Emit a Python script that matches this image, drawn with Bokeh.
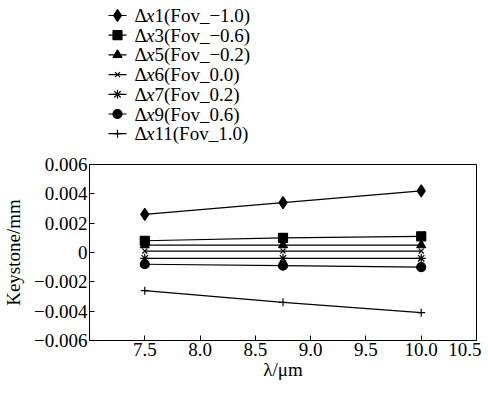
from bokeh.plotting import figure
from bokeh.layouts import column
from bokeh.models import Range1d, FixedTicker
from bokeh.core.properties import value
from bokeh.embed import file_html
from bokeh.resources import INLINE

# ---- data ----
wavelength = [7.5, 8.75, 10.0]
series_names = ["1(Fov_\u22121.0)", "3(Fov_\u22120.6)", "5(Fov_\u22120.2)", "6(Fov_0.0)",
                "7(Fov_0.2)", "9(Fov_0.6)", "11(Fov_1.0)"]
dx1 = [0.0026, 0.0034, 0.0042]
dx3 = [0.0008, 0.0010, 0.0011]
dx5 = [0.0005, 0.0005, 0.0005]
dx6 = [0.0001, 0.0001, 0.0001]
dx7 = [-0.0004, -0.0004, -0.0004]
dx9 = [-0.0008, -0.0009, -0.0010]
dx11 = [-0.0026, -0.0034, -0.0041]
x_ticks = [7.5, 8.0, 8.5, 9.0, 9.5, 10.0, 10.5]
x_tick_labels = ["7.5", "8.0", "8.5", "9.0", "9.5", "10.0", "10.5"]
y_ticks = [0.006, 0.004, 0.002, 0.0, -0.002, -0.004, -0.006]
y_tick_labels = ["0.006", "0.004", "0.002", "0", "\u22120.002", "\u22120.004", "\u22120.006"]

series = [dx1, dx3, dx5, dx6, dx7, dx9, dx11]
markers = ["diamond", "square", "triangle", "x", "asterisk", "circle", "cross"]
msizes = [12, 9, 9, 7, 9, 9, 8]

FONT = "Liberation Serif"
BL, BR = 80, 5          # left / right borders shared by both figures
FW, FH = 387, 176       # main frame size
LH = 154                # legend strip height

# ---- legend figure (manual, to allow italic x); x/y in canvas pixels ----
leg = figure(frame_width=FW, frame_height=LH, x_range=Range1d(BL, BL + FW),
             y_range=Range1d(LH, 0),
             output_backend="svg", toolbar_location=None, min_border=0,
             min_border_left=BL, min_border_right=BR,
             x_axis_location=None, y_axis_location=None)
leg.grid.visible = False
leg.outline_line_color = None

row0, row_step = 15.0, 19.7
lx0, lx1 = 99, 117
for i, (name, mk, ms) in enumerate(zip(series_names, markers, msizes)):
    yy = row0 + i * row_step
    leg.line([lx0, lx1], [yy, yy], line_color="black", line_width=1.2)
    leg.scatter([(lx0 + lx1) / 2], [yy], marker=mk, size=ms, line_color="black",
                fill_color="black", line_width=1.2)
    leg.text([125], [yy], text=["\u0394"], text_font=value(FONT), text_font_size="19px",
             text_baseline="middle", text_color="black")
    leg.text([136.5], [yy], text=["x"], text_font=value(FONT), text_font_size="19px",
             text_font_style="italic", text_baseline="middle", text_color="black")
    leg.text([145], [yy], text=[name], text_font=value(FONT), text_font_size="19px",
             text_baseline="middle", text_color="black")

# ---- main figure ----
p = figure(frame_width=FW, frame_height=FH, x_range=Range1d(7.0, 10.5),
           y_range=Range1d(-0.006, 0.006),
           output_backend="svg", toolbar_location=None,
           min_border_left=BL, min_border_right=BR, min_border_top=10, min_border_bottom=40)
p.grid.visible = False
p.outline_line_color = "black"
p.outline_line_width = 1

for ys, mk, ms in zip(series, markers, msizes):
    p.line(wavelength, ys, line_color="black", line_width=1.2)
    p.scatter(wavelength, ys, marker=mk, size=ms, line_color="black",
              fill_color="black", line_width=1.2)

p.xaxis.ticker = FixedTicker(ticks=x_ticks)
p.xaxis.major_label_overrides = dict(zip(x_ticks, x_tick_labels))
p.yaxis.ticker = FixedTicker(ticks=y_ticks)
p.yaxis.major_label_overrides = dict(zip(y_ticks, y_tick_labels))

for ax in (p.xaxis[0], p.yaxis[0]):
    ax.major_tick_in = 5
    ax.major_tick_out = 0
    ax.minor_tick_in = 0
    ax.minor_tick_out = 0
    ax.axis_line_color = "black"
    ax.major_tick_line_color = "black"
    ax.major_label_text_font = FONT
    ax.major_label_text_font_size = "19px"
    ax.major_label_text_color = "black"
    ax.axis_label_text_font = FONT
    ax.axis_label_text_font_size = "19px"
    ax.axis_label_text_font_style = "normal"
    ax.axis_label_text_color = "black"

p.xaxis.axis_label = "\u03bb/\u03bcm"
p.yaxis.axis_label = "Keystone/mm"
p.xaxis.major_label_standoff = 2
p.xaxis.axis_label_standoff = 0
p.yaxis.major_label_standoff = 2
p.yaxis.axis_label_standoff = 7

layout = column(leg, p, spacing=0)
open("out.html", "w").write(file_html(layout, INLINE))
